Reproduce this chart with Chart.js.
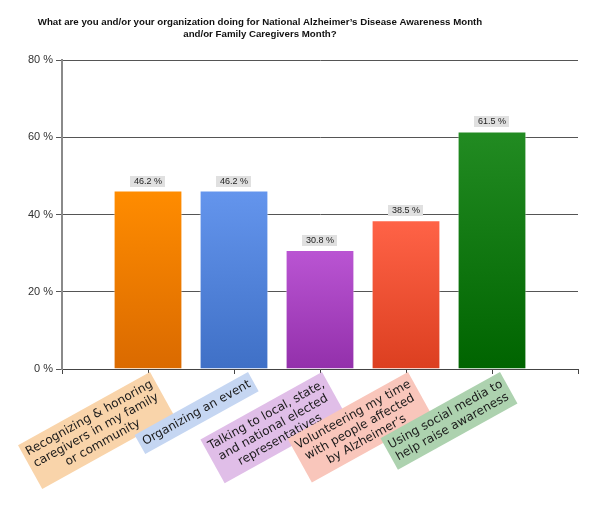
<!DOCTYPE html>
<html>
<head>
<meta charset="utf-8">
<script src="https://cdn.jsdelivr.net/npm/chart.js@4/dist/chart.umd.min.js"></script>
<style>
  html, body { margin: 0; padding: 0; background: #fff; }
  #wrap { width: 600px; height: 522px; position: relative; }
</style>
</head>
<body>
<div id="wrap"><canvas id="chart"></canvas></div>
<script>
// Survey results: share of respondents per activity.
const titleLines = [
  'What are you and/or your organization doing for National Alzheimer\u2019s Disease Awareness Month',
  'and/or Family Caregivers Month?',
];
const categories = [
  ['Recognizing & honoring', 'caregivers in my family', 'or community'],
  ['Organizing an event'],
  ['Talking to local, state,', 'and national elected', 'representatives'],
  ['Volunteering my time', 'with people affected', 'by Alzheimer\u2019s'],
  ['Using social media to', 'help raise awareness'],
];
const values = [46.2, 46.2, 30.8, 38.5, 61.5];
const yTicks = [0, 20, 40, 60, 80];

// ---------- styles ----------
const BAR_TOP = ['#ff8c00', '#6495ed', '#ba55d3', '#ff6347', '#228b22'];
const BAR_BOTTOM = ['#da6a00', '#3f70c6', '#9330ab', '#dc3f20', '#006400'];
const LABEL_FILL = ['#f9d4aa', '#c5d6f2', '#e0bee8', '#f9c6bb', '#add2af'];
const LABEL_FONT = '12px "DejaVu Sans"';

const points = values.map((v, i) => ({ x: i, y: v }));

function barGradient(ctx) {
  const chart = ctx.chart;
  const i = ctx.dataIndex;
  const ys = chart.scales.y;
  if (!chart.chartArea || !ys || i === undefined) return BAR_TOP[i] || '#888';
  const top = ys.getPixelForValue(values[i]);
  const bottom = ys.getPixelForValue(0);
  const g = chart.ctx.createLinearGradient(0, top, 0, bottom);
  g.addColorStop(0, BAR_TOP[i]);
  g.addColorStop(1, BAR_BOTTOM[i]);
  return g;
}

const decorations = {
  id: 'decorations',
  afterDatasetsDraw(chart) {
    const { ctx } = chart;
    const xs = chart.scales.x;
    const ys = chart.scales.y;

    // title
    ctx.save();
    ctx.fillStyle = '#111';
    ctx.font = 'bold 9.7px "Liberation Sans", Arial, sans-serif';
    ctx.textAlign = 'center';
    ctx.textBaseline = 'alphabetic';
    titleLines.forEach((t, k) => ctx.fillText(t, 260, 25 + k * 12));
    ctx.restore();

    // value boxes above bars
    ctx.save();
    ctx.font = '9px "Liberation Sans", Arial, sans-serif';
    ctx.textAlign = 'center';
    ctx.textBaseline = 'middle';
    values.forEach((v, i) => {
      const x = xs.getPixelForValue(i);
      const y = ys.getPixelForValue(v);
      const txt = v.toFixed(1) + ' %';
      const w = ctx.measureText(txt).width + 7;
      ctx.fillStyle = '#e0e0e0';
      ctx.fillRect(Math.round(x - w / 2), Math.round(y - 15), Math.round(w), 11);
      ctx.fillStyle = '#222';
      ctx.fillText(txt, x, y - 9.5);
    });
    ctx.restore();

    // rotated category labels on coloured boxes; taller boxes sit a bit
    // further left so they don't run into their neighbour
    const lineH = 14;
    const pad = 4;
    ctx.save();
    ctx.font = LABEL_FONT;
    categories.forEach((lines, i) => {
      const x = xs.getPixelForValue(i);
      const w = Math.max(...lines.map((l) => ctx.measureText(l).width)) + pad * 2;
      const h = lines.length * lineH + pad * 2;
      ctx.save();
      ctx.translate(x + 14 - (lines.length - 1) * 6, ys.bottom + 3);
      ctx.rotate(-29 * Math.PI / 180);
      ctx.fillStyle = LABEL_FILL[i];
      ctx.fillRect(-w, 0, w, h);
      ctx.fillStyle = '#1a1a1a';
      ctx.textAlign = 'center';
      ctx.textBaseline = 'middle';
      lines.forEach((l, k) => ctx.fillText(l, -w / 2, pad + lineH * (k + 0.5)));
      ctx.restore();
    });
    ctx.restore();
  },
};

new Chart(document.getElementById('chart'), {
  type: 'bar',
  data: {
    datasets: [{
      data: points,
      backgroundColor: barGradient,
      borderColor: 'rgba(255,255,255,0.55)',
      borderWidth: 1,
      barPercentage: 0.8,
      categoryPercentage: 1,
    }],
  },
  options: {
    responsive: true,
    maintainAspectRatio: false,
    animation: false,
    layout: { padding: { top: 60, right: 22, bottom: 0, left: 0 } },
    plugins: {
      legend: { display: false },
      tooltip: { enabled: false },
    },
    scales: {
      x: {
        type: 'linear',
        min: -1,
        max: 5,
        offset: false,
        ticks: { stepSize: 1, display: false },
        grid: { offset: false, drawOnChartArea: false, tickLength: 5, color: '#444' },
        border: { color: '#444', width: 1 },
        afterFit: (s) => { s.height = 153; },
      },
      y: {
        min: 0,
        max: 80,
        afterBuildTicks: (s) => { s.ticks = yTicks.map((v) => ({ value: v })); },
        ticks: {
          color: '#333',
          padding: 3,
          font: { family: '"Liberation Sans", Arial, sans-serif', size: 11 },
          callback: (v) => v + ' %',
        },
        grid: { color: '#555', lineWidth: 1, tickLength: 6 },
        border: { color: '#8a8a8a', width: 2 },
        afterFit: (s) => { s.width = 62; },
      },
    },
  },
  plugins: [decorations],
});
</script>
</body>
</html>
